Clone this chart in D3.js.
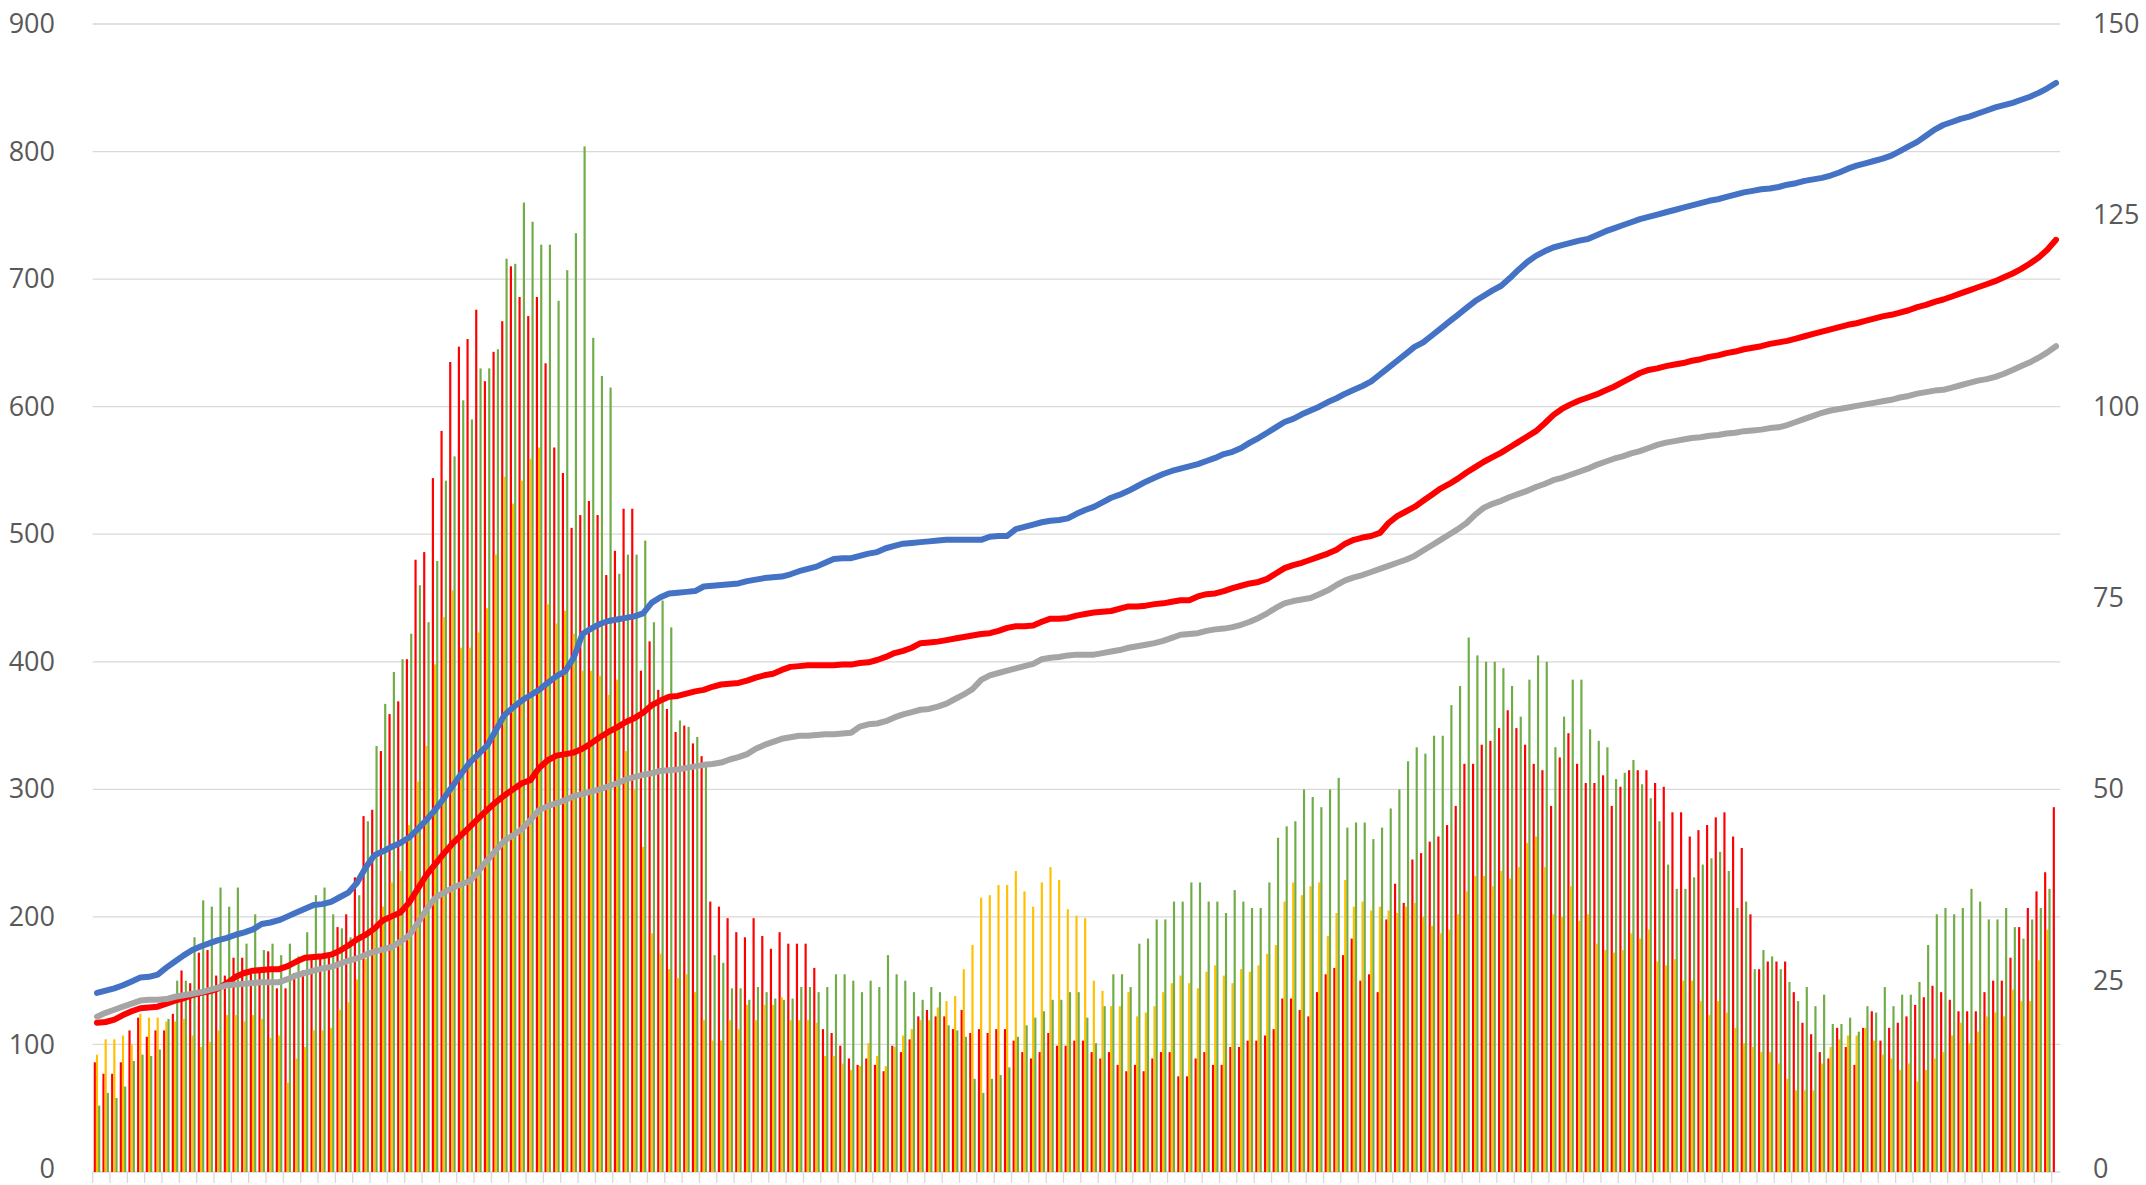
<!DOCTYPE html>
<html>
<head>
<meta charset="utf-8">
<script src="https://cdn.jsdelivr.net/npm/d3@7"></script>
<style>
  html, body { margin: 0; padding: 0; background: #ffffff; }
  #chart svg { display: block; }
</style>
</head>
<body>
<div id="chart"></div>
<script>
// daily bars (left axis)
const redBars = [
  86,77,77,86,111,121,106,111,111,124, 158,148,172,174,154,154,168,168,158,158,
  173,144,144,156,158,168,169,169,192,202, 231,279,284,330,359,369,402,480,
  486,544,581,635,647,653,676,620,643,667, 710,686,671,686,634,568,548,505,515,526,
  515,468,487,520,520,393,416,378,363,345, 350,336,326,212,208,199,188,184,
  199,185,175,188,179,179,179,160,112,109, 99,89,84,89,84,79,99,94,104,122,
  127,122,122,112,127,109,112,109,112,112, 103,94,89,94,109,99,99,103,
  103,94,89,94,84,79,84,79,89,94, 94,75,75,89,94,84,84,98,98,103,
  103,107,112,136,136,127,122,141,155,160, 170,183,150,155,141,198,226,211,
  245,250,259,263,272,287,320,320,335,338, 348,362,348,335,320,315,287,325,344,320,
  305,305,311,287,302,315,315,315,305,302, 282,282,263,268,272,278,282,263,
  254,202,159,165,165,165,141,117,108,94, 89,113,98,84,113,126,103,113,117,122,
  131,137,146,141,135,126,126,126,141,150, 150,168,192,207,220,235,286
]
const orangeBars = [
  92,104,104,107,100,124,121,121,118,118, 120,107,98,102,111,123,123,118,123,120,
  105,107,70,89,98,111,111,113,127,133, 151,167,192,208,227,236,272,306,
  334,398,435,456,411,411,423,442,484,545, 524,542,559,568,445,430,440,422,393,393,
  389,374,386,330,300,255,187,171,159,152, 155,141,119,103,103,119,112,131,
  119,131,131,137,119,119,119,117,91,91, 85,80,83,101,91,83,98,107,112,119,
  119,129,134,138,159,178,215,217,225,225, 236,220,208,227,239,229,206,201,
  199,150,142,130,130,141,122,125,130,141, 148,154,148,144,157,162,154,148,159,157,
  162,171,178,212,227,217,224,227,185,203, 229,208,212,205,208,205,203,208,
  211,200,193,187,190,202,220,232,232,224, 236,230,239,258,263,239,202,200,224,197,
  202,179,174,172,174,187,183,190,165,162, 167,150,150,134,123,134,125,113,
  101,98,94,94,85,73,64,64,64,85, 98,104,107,107,113,103,92,89,80,85,
  71,80,89,94,107,117,101,110,122,125, 122,143,134,134,166,190,null
]
const greenBars = [
  52,62,58,67,87,92,91,96,120,150, 150,184,213,208,223,208,223,179,202,174,
  179,170,179,169,188,217,223,202,191,184, 217,275,334,367,392,402,422,460,
  431,479,542,561,605,590,630,630,645,716, 712,760,745,727,727,683,707,736,804,654,
  624,615,469,484,484,495,431,448,427,354, 349,341,318,170,164,144,144,135,
  145,141,136,135,136,145,145,141,145,155, 155,150,141,150,145,170,155,150,141,135,
  145,141,115,111,106,73,62,73,76,82, 106,115,121,126,135,135,141,141,
  121,101,130,155,155,145,179,183,198,198, 212,212,227,227,212,212,203,221,212,207,
  207,227,262,271,275,300,294,286,300,309, 270,274,274,261,270,285,300,322,
  333,328,342,342,366,381,419,405,400,400, 395,381,357,386,405,400,333,357,386,386,
  347,338,333,308,313,323,304,293,275,241, 222,222,231,241,246,251,236,207,
  212,159,174,169,159,149,134,145,130,139, 116,116,121,110,130,125,145,130,139,139,
  149,178,202,207,202,207,222,212,198,198, 207,192,183,198,207,222,null
]

// running lines (right axis)
const blueLine = [
  23.4,23.7,24.0,24.4,24.9,25.4,25.5,25.8,26.7,27.5, 28.3,29.0,29.5,29.9,30.3,30.6,31.0,31.3,31.7,32.4,
  32.6,32.9,33.4,33.9,34.4,34.9,35.0,35.3,35.9,36.5, 37.8,39.8,41.4,41.9,42.5,43.0,43.7,44.8,46.0,47.3,
  48.8,50.4,52.0,53.5,54.6,55.7,57.7,59.7,60.7,61.6, 62.3,63.0,63.9,64.8,65.4,67.2,70.3,71.0,71.6,72.0,
  72.2,72.4,72.6,73.0,74.4,75.1,75.6,75.7,75.8,75.9, 76.5,76.6,76.7,76.8,76.9,77.2,77.4,77.6,77.7,77.8,
  78.1,78.5,78.8,79.1,79.6,80.1,80.2,80.2,80.5,80.8, 81.0,81.5,81.8,82.1,82.2,82.3,82.4,82.5,82.6,82.6,
  82.6,82.6,82.6,83.0,83.1,83.1,84.0,84.3,84.6,84.9, 85.1,85.2,85.4,86.0,86.5,86.9,87.5,88.1,88.5,89.0,
  89.6,90.2,90.7,91.2,91.6,91.9,92.2,92.5,92.9,93.3, 93.8,94.1,94.6,95.3,95.9,96.6,97.3,98.0,98.4,99.0,
  99.5,100.0,100.6,101.1,101.7,102.2,102.7,103.3,104.2,105.1, 106.0,106.9,107.8,108.4,109.3,110.2,111.1,112.0,112.9,113.8,
  114.5,115.2,115.8,116.8,117.9,118.9,119.7,120.3,120.8,121.1, 121.4,121.7,121.9,122.4,122.9,123.3,123.7,124.1,124.5,124.8,
  125.1,125.4,125.7,126.0,126.3,126.6,126.9,127.1,127.4,127.7, 128.0,128.2,128.4,128.5,128.7,129.0,129.2,129.5,129.7,129.9,
  130.2,130.6,131.1,131.5,131.8,132.1,132.4,132.8,133.4,134.0, 134.6,135.4,136.2,136.8,137.2,137.6,137.9,138.3,138.7,139.1,
  139.4,139.7,140.1,140.5,141.0,141.6,142.3
]
const redLine = [
  19.5,19.6,19.9,20.5,21.0,21.4,21.5,21.6,22.0,22.4, 22.7,23.1,23.4,23.6,24.0,24.7,25.5,26.0,26.3,26.4,
  26.5,26.5,26.9,27.5,28.0,28.1,28.2,28.4,28.9,29.6, 30.4,31.0,31.8,32.9,33.4,33.9,35.2,37.0,38.8,40.2,
  41.6,42.9,44.0,45.1,46.2,47.3,48.3,49.2,50.0,50.8, 51.2,52.8,53.8,54.4,54.6,54.8,55.3,56.0,56.8,57.5,
  58.1,58.8,59.3,60.0,61.0,61.6,62.1,62.2,62.5,62.8, 63.0,63.4,63.7,63.8,63.9,64.2,64.6,64.9,65.1,65.6,
  66.0,66.1,66.2,66.2,66.2,66.2,66.3,66.3,66.5,66.6, 66.9,67.3,67.8,68.1,68.5,69.1,69.2,69.3,69.5,69.7,
  69.9,70.1,70.3,70.4,70.7,71.1,71.3,71.3,71.4,71.9, 72.3,72.3,72.4,72.7,72.9,73.1,73.2,73.3,73.6,73.9,
  73.9,74.0,74.2,74.3,74.5,74.7,74.7,75.2,75.5,75.6, 75.9,76.3,76.6,76.9,77.1,77.5,78.2,78.9,79.3,79.6,
  80.0,80.4,80.8,81.3,82.1,82.6,82.9,83.1,83.5,84.8, 85.7,86.3,86.9,87.7,88.5,89.3,89.9,90.6,91.4,92.1,
  92.8,93.4,94.0,94.7,95.4,96.1,96.8,97.8,98.9,99.7, 100.3,100.8,101.2,101.6,102.1,102.6,103.2,103.8,104.4,104.8,
  105.0,105.3,105.5,105.7,106.0,106.2,106.5,106.7,107.0,107.2, 107.5,107.7,107.9,108.2,108.4,108.6,108.9,109.2,109.5,109.8,
  110.1,110.4,110.7,110.9,111.2,111.5,111.8,112.0,112.3,112.6, 113.0,113.3,113.7,114.0,114.4,114.8,115.2,115.6,116.0,116.4,
  116.9,117.4,118.0,118.7,119.5,120.5,121.8
]
const grayLine = [
  20.3,20.8,21.2,21.6,22.0,22.4,22.5,22.5,22.6,22.9, 23.1,23.3,23.5,23.8,24.1,24.4,24.5,24.6,24.7,24.8,
  24.8,24.8,25.2,25.7,26.0,26.3,26.6,26.8,27.2,27.6, 27.9,28.4,28.8,29.1,29.4,30.1,30.9,32.5,34.3,35.8,
  36.5,37.1,37.6,38.0,39.3,40.7,42.0,43.3,44.0,44.8, 46.0,47.3,47.8,48.2,48.6,49.1,49.4,49.7,50.0,50.4,
  50.8,51.3,51.6,51.9,52.1,52.4,52.5,52.6,52.8,53.0, 53.2,53.3,53.5,53.9,54.2,54.6,55.3,55.8,56.2,56.6,
  56.8,57.0,57.0,57.1,57.2,57.2,57.3,57.4,58.2,58.5, 58.6,58.9,59.4,59.8,60.1,60.4,60.5,60.8,61.2,61.8,
  62.4,63.1,64.3,64.9,65.2,65.5,65.8,66.1,66.4,67.0, 67.2,67.3,67.5,67.6,67.6,67.6,67.8,68.0,68.2,68.5,
  68.7,68.9,69.1,69.4,69.8,70.2,70.3,70.4,70.7,70.9, 71.0,71.2,71.5,71.9,72.4,73.0,73.7,74.3,74.6,74.8,
  75.0,75.5,76.0,76.7,77.3,77.7,78.0,78.4,78.8,79.2, 79.6,80.0,80.5,81.2,81.9,82.6,83.3,84.0,84.8,85.9,
  86.8,87.3,87.7,88.2,88.6,89.0,89.5,89.9,90.4,90.7, 91.1,91.5,91.9,92.4,92.8,93.2,93.5,93.9,94.2,94.6,
  95.0,95.3,95.5,95.7,95.9,96.0,96.2,96.3,96.5,96.6, 96.8,96.9,97.0,97.2,97.3,97.6,98.0,98.4,98.8,99.2,
  99.5,99.7,99.9,100.1,100.3,100.5,100.7,100.9,101.2,101.4, 101.7,101.9,102.1,102.2,102.5,102.8,103.1,103.4,103.6,103.9,
  104.3,104.8,105.3,105.8,106.4,107.1,107.9
]

const leftTicks = [0, 100, 200, 300, 400, 500, 600, 700, 800, 900]
const rightTicks = [0, 25, 50, 75, 100, 125, 150]

const WIDTH = 2146
const HEIGHT = 1185
const plot = { left: 92.67, right: 2060.33, top: 24, bottom: 1172 }

const days = d3.range(redBars.length)

const barSeries = [
  { key: "red", values: redBars, color: "#FF0000" },
  { key: "orange", values: orangeBars, color: "#FFC000" },
  { key: "green", values: greenBars, color: "#70AD47" },
]
const lineSeries = [
  { key: "blue", values: blueLine, color: "#4472C4" },
  { key: "red", values: redLine, color: "#FF0000" },
  { key: "gray", values: grayLine, color: "#A5A5A5" },
]

const svg = d3.select("#chart").append("svg")
  .attr("width", WIDTH)
  .attr("height", HEIGHT)
  .attr("viewBox", `0 0 ${WIDTH} ${HEIGHT}`)

const x = d3.scaleBand()
  .domain(days)
  .range([plot.left, plot.right])
  .paddingInner(0.25)
  .paddingOuter(0.125)

const x1 = d3.scaleBand()
  .domain(barSeries.map(d => d.key))
  .range([0, x.bandwidth()])

const yL = d3.scaleLinear().domain([0, 900]).range([plot.bottom, plot.top])
const yR = d3.scaleLinear().domain([0, 150]).range([plot.bottom, plot.top])

// gridlines
svg.append("g")
  .attr("class", "grid")
  .selectAll("line")
  .data(leftTicks)
  .enter()
  .append("line")
  .attr("x1", plot.left)
  .attr("x2", plot.right)
  .attr("y1", d => yL(d))
  .attr("y2", d => yL(d))
  .attr("stroke", "#D9D9D9")
  .attr("stroke-width", 1.3)

// category ticks, one every second day
const gap = x.step() * x.paddingInner() / 2
svg.append("g")
  .attr("class", "x-ticks")
  .selectAll("line")
  .data(days.filter(d => d % 2 === 0))
  .enter()
  .append("line")
  .attr("x1", d => x(d) - gap)
  .attr("x2", d => x(d) - gap)
  .attr("y1", plot.bottom)
  .attr("y2", plot.bottom + 11)
  .attr("stroke", "#D9D9D9")
  .attr("stroke-width", 1.3)

// bars
const barGroups = svg.append("g")
  .attr("class", "bars")
  .selectAll("g")
  .data(barSeries)
  .enter()
  .append("g")
  .attr("fill", d => d.color)

barGroups.selectAll("rect")
  .data(s => days.filter(i => s.values[i] != null).map(i => ({ key: s.key, day: i, v: s.values[i] })))
  .enter()
  .append("rect")
  .attr("x", d => x(d.day) + x1(d.key))
  .attr("width", x1.bandwidth())
  .attr("y", d => yL(d.v))
  .attr("height", d => yL(0) - yL(d.v))

// lines
const line = d3.line()
  .x(i => x(i) + x.bandwidth() / 2)

svg.append("g")
  .attr("class", "lines")
  .selectAll("path")
  .data(lineSeries)
  .enter()
  .append("path")
  .attr("d", s => line.y(i => yR(s.values[i]))(days))
  .attr("fill", "none")
  .attr("stroke", s => s.color)
  .attr("stroke-width", 6)
  .attr("stroke-linejoin", "round")
  .attr("stroke-linecap", "round")

// axes
const leftAxis = svg.append("g")
  .attr("transform", "translate(55,0)")
  .call(d3.axisLeft(yL).tickValues(leftTicks).tickSize(0).tickPadding(0))
const rightAxis = svg.append("g")
  .attr("transform", "translate(2093,0)")
  .call(d3.axisRight(yR).tickValues(rightTicks).tickSize(0).tickPadding(0))

for (const ax of [leftAxis, rightAxis]) {
  ax.select(".domain").remove()
  ax.selectAll("text")
    .attr("font-family", "'Open Sans', 'DejaVu Sans', sans-serif")
    .attr("font-size", 27)
    .attr("fill", "#595959")
  // keep the bottom label inside the frame
  ax.selectAll(".tick")
    .filter(d => d === 0)
    .select("text")
    .attr("dy", "0.22em")
}
</script>
</body>
</html>
